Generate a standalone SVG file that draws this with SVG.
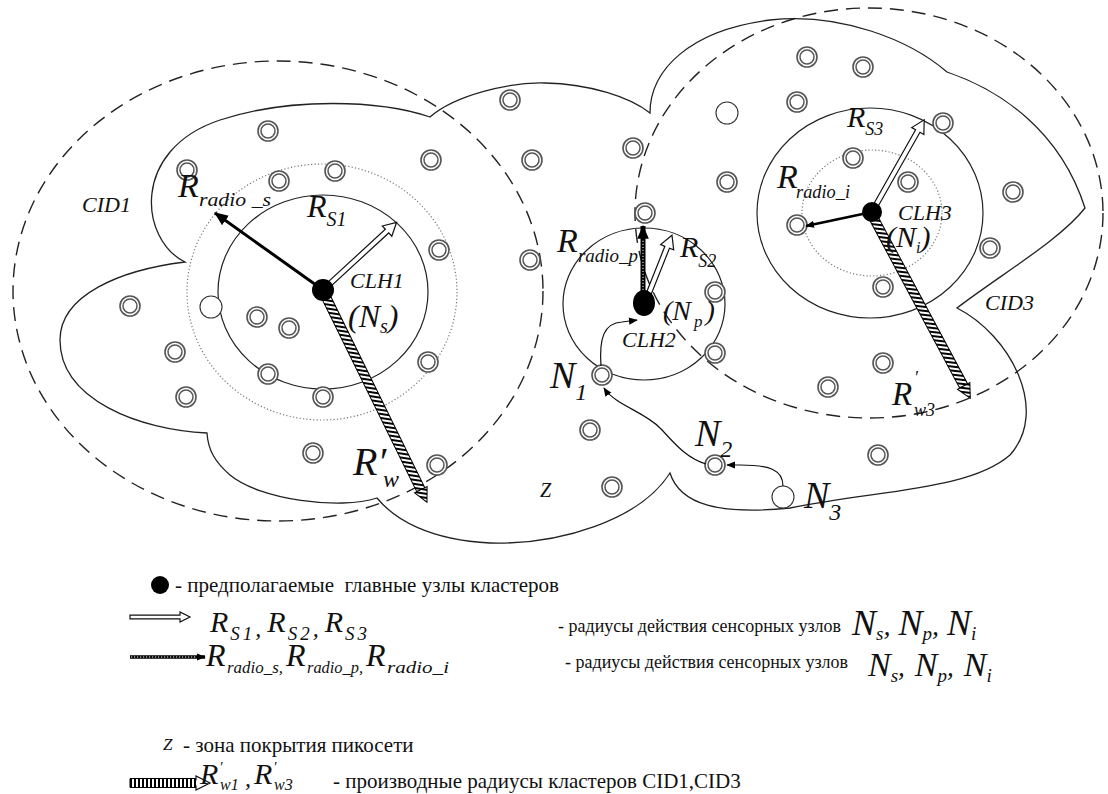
<svg xmlns="http://www.w3.org/2000/svg" width="1108" height="794" viewBox="0 0 1108 794" font-family="'Liberation Serif', 'Times New Roman', serif">
  <style>
    .it { font-family: 'Liberation Serif', 'Times New Roman', serif; font-style: italic; fill: #111; }
    .rm { font-family: 'Liberation Serif', 'Times New Roman', serif; fill: #111; }
    .cid { fill: none; stroke: #222; stroke-width: 1.4; stroke-dasharray: 14 8; }
    .cloud { fill: none; stroke: #222; stroke-width: 1.3; }
    .range { fill: none; stroke: #222; stroke-width: 1.2; }
    .radio { fill: none; stroke: #777; stroke-width: 1.2; stroke-dasharray: 1.2 2.2; }
    .ring { fill: #fff; stroke: #555; stroke-width: 1.6; }
    .ring2 { fill: none; stroke: #555; stroke-width: 1.5; }
    .single { fill: #fff; stroke: #333; stroke-width: 1.1; }
    .head { fill: #000; }
    .hollow { fill: #fff; stroke: #111; stroke-width: 1.2; stroke-linejoin: miter; }
    .hatched { fill: url(#hatch); stroke: #000; stroke-width: 1; }
    .link { fill: none; stroke: #111; stroke-width: 1.2; }
    .grain { stroke: #fff; stroke-width: 1; stroke-dasharray: 1.2 1.8; }
  </style>
  <defs>
    <g id="sensor">
      <circle class="ring" r="10"/>
      <circle class="ring2" r="7"/>
    </g>
    <pattern id="hatch" width="4" height="4" patternUnits="userSpaceOnUse" patternTransform="rotate(35)">
      <rect width="4" height="4" fill="#fff"/>
      <rect width="2" height="4" fill="#000"/>
    </pattern>
    <pattern id="vstripe" width="4" height="10" patternUnits="userSpaceOnUse">
      <rect width="4" height="10" fill="#fff"/>
      <rect width="2" height="10" fill="#000"/>
    </pattern>
    <marker id="arrowBig" viewBox="0 0 12 10" refX="11" refY="5" markerWidth="14" markerHeight="12" markerUnits="userSpaceOnUse" orient="auto">
      <path d="M0,0 L12,5 L0,10 Z" class="head"/>
    </marker>
    <marker id="arrowSmall" viewBox="0 0 10 8" refX="9" refY="4" markerWidth="9" markerHeight="8" markerUnits="userSpaceOnUse" orient="auto">
      <path d="M0,0 L10,4 L0,8 Z" class="head"/>
    </marker>
  </defs>

  <!-- coverage areas -->
  <g id="areas">
    <ellipse id="cid1" class="cid" cx="278" cy="291" rx="265" ry="230"/>
    <ellipse id="cid3" class="cid" cx="869" cy="213" rx="234" ry="205"/>
    <path id="picocell" class="cloud" d="M185,262 C140,240 130,150 220,120 C290,97 380,100 430,117
      C455,95 510,82 545,83 C590,84 630,97 650,113
      C650,70 690,30 770,20 C840,12 910,40 947,72
      C1000,90 1060,130 1085,208 C1060,240 1000,275 957,308
      C1010,335 1050,410 1010,455 C970,490 880,490 790,508
      C720,515 680,505 670,473
      C640,520 560,545 490,543 C430,540 395,520 377,498
      C340,510 260,500 230,475 C215,462 208,450 207,433
      C140,430 60,400 60,340 C60,295 120,270 185,262 Z"/>
    <ellipse class="radio" cx="322" cy="292" rx="135" ry="128"/>
    <ellipse class="range" cx="323" cy="292" rx="105" ry="97"/>
    <ellipse class="range" cx="644" cy="304" rx="81" ry="76"/>
    <ellipse class="radio" cx="872" cy="213" rx="70" ry="63"/>
    <ellipse class="range" cx="870" cy="213" rx="113" ry="105"/>
  </g>

  <!-- sensor nodes -->
  <g id="sensors">
    <g id="s01"><use href="#sensor" x="268" y="131"/></g>
    <g id="s02"><use href="#sensor" x="187" y="170"/></g>
    <g id="s03"><use href="#sensor" x="279" y="181"/></g>
    <g id="s04"><use href="#sensor" x="335" y="171"/></g>
    <g id="s05"><use href="#sensor" x="431" y="160"/></g>
    <g id="s06"><use href="#sensor" x="439" y="250"/></g>
    <g id="s07"><use href="#sensor" x="130" y="306"/></g>
    <g id="s08"><use href="#sensor" x="257" y="317"/></g>
    <g id="s09"><use href="#sensor" x="289" y="328"/></g>
    <g id="s10"><use href="#sensor" x="175" y="352"/></g>
    <g id="s11"><use href="#sensor" x="268" y="374"/></g>
    <g id="s12"><use href="#sensor" x="428" y="362"/></g>
    <g id="s13"><use href="#sensor" x="186" y="397"/></g>
    <g id="s14"><use href="#sensor" x="323" y="397"/></g>
    <g id="s15"><use href="#sensor" x="313" y="453"/></g>
    <g id="s16"><use href="#sensor" x="437" y="465"/></g>
    <g id="s17"><use href="#sensor" x="510" y="100"/></g>
    <g id="s18"><use href="#sensor" x="532" y="160"/></g>
    <g id="s19"><use href="#sensor" x="633" y="148"/></g>
    <g id="s20"><use href="#sensor" x="645" y="213"/></g>
    <g id="s21"><use href="#sensor" x="530" y="260"/></g>
    <g id="s22"><use href="#sensor" x="715" y="292"/></g>
    <g id="s23"><use href="#sensor" x="715" y="353"/></g>
    <g id="s24"><use href="#sensor" x="590" y="430"/></g>
    <g id="s25"><use href="#sensor" x="612" y="487"/></g>
    <g id="s26"><use href="#sensor" x="807" y="57"/></g>
    <g id="s27"><use href="#sensor" x="863" y="67"/></g>
    <g id="s28"><use href="#sensor" x="797" y="102"/></g>
    <g id="s29"><use href="#sensor" x="727" y="182"/></g>
    <g id="s30"><use href="#sensor" x="943" y="123"/></g>
    <g id="s31"><use href="#sensor" x="853" y="158"/></g>
    <g id="s32"><use href="#sensor" x="908" y="182"/></g>
    <g id="s33"><use href="#sensor" x="797" y="225"/></g>
    <g id="s34"><use href="#sensor" x="1013" y="192"/></g>
    <g id="s35"><use href="#sensor" x="990" y="248"/></g>
    <g id="s36"><use href="#sensor" x="883" y="287"/></g>
    <g id="s37"><use href="#sensor" x="883" y="363"/></g>
    <g id="s38"><use href="#sensor" x="828" y="387"/></g>
    <g id="s39"><use href="#sensor" x="878" y="455"/></g>
    <g id="u1"><circle class="single" cx="211" cy="307" r="11"/></g>
    <g id="u2"><circle class="single" cx="727" cy="113" r="11"/></g>
    <g id="N1"><use href="#sensor" x="602" y="375"/></g>
    <g id="N2"><use href="#sensor" x="715" y="465"/></g>
    <g id="N3"><circle class="single" cx="783" cy="497" r="11"/></g>
  </g>

  <!-- relay paths and range arrows -->
  <g id="connectors">
    <path class="link" d="M601,366 C599,338 604,323 622,322 L637,320" marker-end="url(#arrowSmall)"/>
    <path class="link" d="M706,464 C685,458 672,440 660,428 C645,412 615,405 604,388" marker-end="url(#arrowSmall)"/>
    <path class="link" d="M783,486 C783,470 770,465 740,465 L727,465" marker-end="url(#arrowSmall)"/>

    <!-- sensing radius (hollow) -->
    <g transform="translate(323,290) rotate(-42.6)"><path class="hollow" d="M0,-2.5 H87 V-7 L100,0 L87,7 V2.5 H0 Z"/></g>
    <g transform="translate(645,303) rotate(-68.3)"><path class="hollow" d="M0,-2.5 H60 V-7 L73,0 L60,7 V2.5 H0 Z"/></g>
    <g transform="translate(872,212) rotate(-60.5)"><path class="hollow" d="M0,-2.5 H93 V-7 L106,0 L93,7 V2.5 H0 Z"/></g>

    <!-- derived cluster radius (hatched) -->
    <g transform="translate(325,295) rotate(63.8)">
      <path class="hatched" d="M0,-4.5 H217 V4.5 H0 Z"/>
      <path class="hatched" d="M217,-7 L231,0 L217,7 Z"/>
    </g>
    <g transform="translate(872,215) rotate(61.8)">
      <path class="hatched" d="M0,-4.5 H194 V4.5 H0 Z"/>
      <path class="hatched" d="M194,-7 L208,0 L194,7 Z"/>
    </g>

    <!-- radio range (black) -->
    <line x1="323" y1="290" x2="215" y2="213" stroke="#000" stroke-width="3" marker-end="url(#arrowBig)"/>
    <line x1="643" y1="300" x2="643" y2="226" stroke="#000" stroke-width="5" marker-end="url(#arrowBig)"/>
    <line class="grain" x1="643" y1="296" x2="643" y2="240"/>
    <line x1="872" y1="212" x2="806" y2="226" stroke="#000" stroke-width="2.5" marker-end="url(#arrowSmall)"/>
  </g>

  <!-- cluster heads -->
  <g id="CLH1"><circle cx="323" cy="290" r="11" fill="#000"/></g>
  <g id="CLH2"><ellipse cx="644" cy="303" rx="11" ry="13" fill="#000"/></g>
  <g id="CLH3"><circle cx="872" cy="212" r="10" fill="#000"/></g>

  <!-- labels -->
  <g id="labels">
    <text class="it" x="82" y="212" font-size="22">CID1</text>
    <text class="it" x="985" y="310" font-size="22">CID3</text>
    <text class="it" x="350" y="288" font-size="22">CLH1</text>
    <text class="it" x="622" y="347" font-size="22">CLH2</text>
    <text class="it" x="898" y="220" font-size="22">CLH3</text>
    <text class="it" x="540" y="497" font-size="20">Z</text>

    <text class="it" x="178" y="197" font-size="34">R</text>
    <text class="it" x="199" y="206" font-size="18" textLength="72" lengthAdjust="spacingAndGlyphs" xml:space="preserve">radio _s</text>
    <text class="it" x="307" y="217" font-size="32">R<tspan font-size="20" dy="9">S1</tspan></text>
    <text class="it" x="348" y="327" font-size="32">(N<tspan font-size="20" dy="6">s</tspan><tspan dy="-6">)</tspan></text>
    <text class="it" x="353" y="475" font-size="40">R′</text>
    <text class="it" x="383" y="487" font-size="24">w</text>

    <text class="it" x="557" y="252" font-size="34">R</text>
    <text class="it" x="578" y="262" font-size="18" textLength="60" lengthAdjust="spacingAndGlyphs">radio_p</text>
    <text class="it" x="680" y="257" font-size="30">R<tspan font-size="18" dy="10">S2</tspan></text>
    <text class="it" x="663" y="320" font-size="28">(N<tspan font-size="17" dx="3" dy="7">p</tspan><tspan dx="3" dy="-7">)</tspan></text>

    <text class="it" x="847" y="127" font-size="30">R<tspan font-size="18" dy="8">S3</tspan></text>
    <text class="it" x="777" y="188" font-size="34">R</text>
    <text class="it" x="796" y="198" font-size="18" textLength="54" lengthAdjust="spacingAndGlyphs">radio_i</text>
    <text class="it" x="886" y="247" font-size="30">(N<tspan font-size="16" dy="6">i</tspan><tspan dy="-6">)</tspan></text>
    <text class="it" x="892" y="405" font-size="33">R</text>
    <text class="it" x="914" y="384" font-size="18">′</text>
    <text class="it" x="914" y="416" font-size="18">w3</text>

    <text class="it" x="550" y="388" font-size="38">N<tspan font-size="24" dy="12">1</tspan></text>
    <text class="it" x="695" y="446" font-size="38">N<tspan font-size="24" dy="11">2</tspan></text>
    <text class="it" x="804" y="508" font-size="38">N<tspan font-size="24" dy="12">3</tspan></text>
  </g>

  <!-- legend -->
  <g id="legend">
    <circle cx="160" cy="585" r="9" fill="#000"/>
    <text class="rm" x="175" y="592" font-size="21" xml:space="preserve">- предполагаемые  главные узлы кластеров</text>

    <g transform="translate(130,617)"><path class="hollow" d="M0,-1.8 H50 V-5 L60,0 L50,5 V1.8 H0 Z"/></g>
    <text class="it" x="210" y="632" font-size="30">R<tspan font-size="19" dx="2" dy="8" letter-spacing="3">S1</tspan><tspan font-size="24" dy="-4">,</tspan><tspan dx="6" dy="-4">R</tspan><tspan font-size="19" dx="2" dy="8" letter-spacing="3">S2</tspan><tspan font-size="24" dy="-4">,</tspan><tspan dx="6" dy="-4">R</tspan><tspan font-size="19" dx="2" dy="8" letter-spacing="3">S3</tspan></text>
    <text class="rm" x="558" y="632" font-size="18">- радиусы действия сенсорных узлов</text>
    <text class="it" x="852" y="635" font-size="36">N<tspan font-size="19" dy="5">s</tspan><tspan font-size="28" dy="-5">,</tspan><tspan dx="8">N</tspan><tspan font-size="19" dy="5">p</tspan><tspan font-size="28" dy="-5">,</tspan><tspan dx="8">N</tspan><tspan font-size="19" dy="5">i</tspan></text>

    <line x1="130" y1="657" x2="205" y2="657" stroke="#000" stroke-width="3.5" marker-end="url(#arrowSmall)"/>
    <line class="grain" x1="131" y1="657" x2="196" y2="657"/>
    <text class="it" x="206" y="666" font-size="32">R</text>
    <text class="it" x="227" y="673" font-size="17" textLength="56" lengthAdjust="spacingAndGlyphs">radio_s,</text>
    <text class="it" x="286" y="666" font-size="32">R</text>
    <text class="it" x="307" y="673" font-size="17" textLength="56" lengthAdjust="spacingAndGlyphs">radio_p,</text>
    <text class="it" x="366" y="666" font-size="32">R</text>
    <text class="it" x="387" y="673" font-size="17" textLength="62" lengthAdjust="spacingAndGlyphs">radio_i</text>
    <text class="rm" x="565" y="668" font-size="18">- радиусы действия сенсорных узлов</text>
    <text class="it" x="868" y="676" font-size="34">N<tspan font-size="19" dy="6">s</tspan><tspan font-size="27" dy="-6">,</tspan><tspan dx="10">N</tspan><tspan font-size="19" dy="6">p</tspan><tspan font-size="27" dy="-6">,</tspan><tspan dx="10">N</tspan><tspan font-size="19" dy="6">i</tspan></text>

    <text class="it" x="163" y="750" font-size="17">Z</text>
    <text class="rm" x="183" y="752" font-size="21">- зона покрытия пикосети</text>

    <g transform="translate(130,783)">
      <path d="M0,-4.5 H66 V4.5 H0 Z" fill="url(#vstripe)" stroke="#000" stroke-width="1"/>
      <path class="hollow" d="M66,-2.5 V-7 L80,0 L66,7 V2.5"/>
    </g>
    <text class="it" x="200" y="784" font-size="30">R<tspan font-size="15" dx="1" dy="-12">′</tspan></text>
    <text class="it" x="220" y="790" font-size="16">w1</text>
    <text class="it" x="245" y="786" font-size="24">,</text>
    <text class="it" x="254" y="784" font-size="30">R<tspan font-size="15" dx="1" dy="-12">′</tspan></text>
    <text class="it" x="274" y="790" font-size="16">w3</text>
    <text class="rm" x="333" y="788" font-size="21">- производные радиусы кластеров CID1,CID3</text>
  </g>
</svg>
